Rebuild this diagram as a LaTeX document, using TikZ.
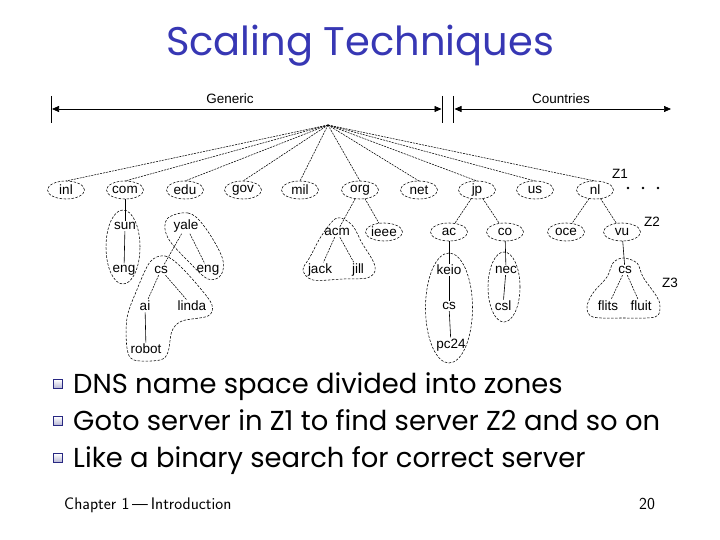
\documentclass[tikz,border=0pt]{standalone}
\usepackage{fontspec}
\setmainfont{Liberation Sans}
\newfontfamily\titlefont{Poppins}
\usetikzlibrary{shapes.geometric,arrows.meta}
\definecolor{titleblue}{RGB}{55,55,180}
\definecolor{bulletnavy}{RGB}{40,40,130}
\begin{document}
\begin{tikzpicture}[x=1pt,y=-1pt,
  lbl/.style={font=\fontsize{13.5}{15}\selectfont, inner sep=1.5pt, outer sep=0pt},
  dom/.style={lbl, ellipse, draw, line width=0.55pt, dash pattern=on 2.5pt off 1.5pt, minimum width=37pt, minimum height=18pt, inner sep=0pt},
  zone/.style={draw, line width=0.55pt, dash pattern=on 2.5pt off 1.5pt},
  lnk/.style={line width=0.55pt, dash pattern=on 2pt off 1pt},
  slnk/.style={line width=0.6pt},
  bar/.style={line width=0.7pt},
  span/.style={line width=0.7pt, {Triangle[length=7pt,width=6pt]}-{Triangle[length=7pt,width=6pt]}},
  bsq/.style={rectangle, minimum size=8.5pt, inner sep=0pt, draw=bulletnavy, line width=0.8pt, top color=white, bottom color=bulletnavy!35},
  btxt/.style={anchor=base west, inner sep=0pt, font=\titlefont\fontsize{27.4}{30}\selectfont},
  dotm/.style={circle, fill, inner sep=0pt, minimum size=2.6pt}
]
\useasboundingbox (0,0) rectangle (720,540);

% title
\node[anchor=base, inner sep=0pt, text=titleblue, font=\titlefont\fontsize{40}{44}\selectfont] (title) at (360,56) {Scaling Techniques};

% span markers
\coordinate (gl1) at (51,96);  \coordinate (gl2) at (51,123);
\coordinate (gm1) at (442.5,96); \coordinate (gm2) at (442.5,123);
\coordinate (cm1) at (453.5,96); \coordinate (cm2) at (453.5,123);
\draw[bar] (gl1) -- (gl2);
\draw[bar] (gm1) -- (gm2);
\draw[bar] (cm1) -- (cm2);
\coordinate (ga) at (52,109); \coordinate (gb) at (441.5,109);
\coordinate (ca) at (454.5,109); \coordinate (cb) at (671,109);
\draw[span] (ga) -- (gb);
\draw[span] (ca) -- (cb);
\node[lbl] (generic) at (230,99) {Generic};
\node[lbl] (countries) at (561,99) {Countries};

% root and top level
\coordinate (root) at (328,125);
\node[dom] (inl) at (66,190) {inl};
\node[dom] (com) at (125,190) {com};
\node[dom] (edu) at (185,190) {edu};
\node[dom] (gov) at (243,190) {gov};
\node[dom] (mil) at (300,190) {mil};
\node[dom] (org) at (360,190) {org};
\node[dom] (net) at (419,190) {net};
\node[dom] (jp) at (477,190) {jp};
\node[dom] (us) at (535,190) {us};
\node[dom] (nl) at (595,190) {nl};
\foreach \n in {inl,com,edu,gov,mil,org,net,jp,us,nl}
  \draw[lnk] (root) -- (\n.north);
\node[lbl] (z1) at (620,174) {Z1};
\node[dotm] (d1) at (628,188) {};
\node[dotm] (d2) at (643,188) {};
\node[dotm] (d3) at (658,188) {};

% com subtree
\node[lbl] (sun) at (125,226) {sun};
\node[lbl] (eng1) at (124,270) {eng};
\draw[slnk] (com) -- (sun);
\draw[slnk] (sun) -- (eng1);
\draw[zone] (123,247) ellipse [x radius=17pt, y radius=37pt];

% edu subtree
\node[lbl] (yale) at (186,226) {yale};
\node[lbl] (cs1) at (161,270) {cs};
\node[lbl] (eng2) at (208,270) {eng};
\node[lbl] (ai) at (145,306) {ai};
\node[lbl] (linda) at (192,306) {linda};
\node[lbl] (robot) at (146,349) {robot};
\draw[lnk] (yale) -- (cs1);
\draw[lnk] (yale) -- (eng2);
\draw[lnk] (cs1) -- (ai);
\draw[lnk] (cs1) -- (linda);
\draw[slnk] (ai) -- (robot);
\draw[zone] plot[smooth cycle, tension=0.6] coordinates {(167,219) (188,213) (204,226) (222,257) (221,275) (208,279) (190,263) (168,238)};
\draw[zone] plot[smooth cycle, tension=0.55] coordinates {(150,262) (165,256) (180,266) (200,288) (212,305) (208,316) (182,321) (172,331) (168,352) (160,360) (134,360) (127,348) (127,318) (136,292)};

% org subtree
\node[lbl] (acm) at (337,232) {acm};
\node[dom] (ieee) at (384,232) {ieee};
\node[lbl] (jack) at (320,270) {jack};
\node[lbl] (jill) at (358,270) {jill};
\draw[lnk] (org) -- (acm);
\draw[lnk] (org) -- (ieee);
\draw[lnk] (acm) -- (jack);
\draw[lnk] (acm) -- (jill);
\draw[zone] plot[smooth cycle, tension=0.55] coordinates {(337,218) (352,225) (362,243) (373,261) (375,271) (367,278) (343,279) (313,280) (303,270) (310,257) (322,235)};

% jp subtree
\node[dom] (ac) at (449,232) {ac};
\node[dom] (co) at (505,232) {co};
\node[lbl] (keio) at (449,270) {keio};
\node[lbl] (cs2) at (449,306) {cs};
\node[lbl] (pc24) at (451,345) {pc24};
\node[lbl] (nec) at (506,270) {nec};
\node[lbl] (csl) at (503,306) {csl};
\draw[lnk] (jp) -- (ac);
\draw[lnk] (jp) -- (co);
\draw[slnk] (ac) -- (keio);
\draw[slnk] (keio) -- (cs2);
\draw[slnk] (cs2) -- (pc24);
\draw[slnk] (co) -- (nec);
\draw[slnk] (nec) -- (csl);
\draw[zone] (449,308) ellipse [x radius=23.5pt, y radius=55pt];
\draw[zone] (504,287) ellipse [x radius=16pt, y radius=35pt];

% nl subtree
\node[dom] (oce) at (566,232) {oce};
\node[dom] (vu) at (622,232) {vu};
\node[lbl] (z2) at (652,222) {Z2};
\node[lbl] (cs3) at (625,270) {cs};
\node[lbl] (flits) at (608,306) {flits};
\node[lbl] (fluit) at (641,306) {fluit};
\node[lbl] (z3) at (670,283) {Z3};
\draw[lnk] (nl) -- (oce);
\draw[lnk] (nl) -- (vu);
\draw[slnk] (vu) -- (cs3);
\draw[lnk] (cs3) -- (flits);
\draw[lnk] (cs3) -- (fluit);
\draw[zone] plot[smooth cycle, tension=0.55] coordinates {(623,258) (637,263) (643,277) (657,297) (660,307) (655,317) (623,318) (593,317) (587,307) (593,293) (607,277) (613,263)};

% bullets
\node[bsq] (b1) at (58,384) {};
\node[bsq] (b2) at (58,421) {};
\node[bsq] (b3) at (58,458) {};
\node[btxt] (t1) at (73,393) {DNS name space divided into zones};
\node[btxt] (t2) at (73,430) {Goto server in Z1 to find server Z2 and so on};
\node[btxt] (t3) at (73,467) {Like a binary search for correct server};

% footer
\node[anchor=base west, inner sep=0pt, font=\sffamily\fontsize{16.8}{18}\selectfont] (foot) at (64,509) {Chapter 1\,—\,Introduction};
\node[anchor=base, inner sep=0pt, font=\sffamily\fontsize{16.8}{18}\selectfont] (pg) at (647,509) {20};
\end{tikzpicture}
\end{document}
